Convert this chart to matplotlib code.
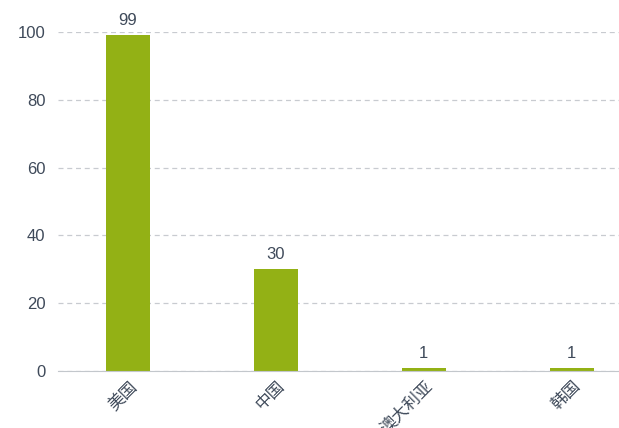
import matplotlib.pyplot as plt

plt.rcParams['font.family'] = ['Liberation Sans', 'Noto Sans CJK SC', 'DejaVu Sans']

countries = ['美国', '中国', '澳大利亚', '韩国']
counts = [99, 30, 1, 1]
yticks = [0, 20, 40, 60, 80, 100]

text_color = '#3f4a5a'
bar_color = '#93b115'

fig = plt.figure(figsize=(6.19, 4.28), dpi=100)
ax = fig.add_axes([58 / 619, (428 - 371) / 428, (619 - 58) / 619, (371 - 32) / 428])

x = list(range(len(countries)))
ax.bar(x, counts, width=0.30, color=bar_color, zorder=3)

for xi, v in zip(x, counts):
    ax.annotate(str(v), (xi, v), xytext=(0, 5), textcoords='offset points',
                ha='center', va='bottom', fontsize=12, color=text_color)

ax.set_xlim(-0.474, 3.32)
ax.set_ylim(0, 100)
ax.set_yticks(yticks)
ax.set_xticks(x)
ax.set_xticklabels(countries, rotation=45, ha='right', va='top', rotation_mode='anchor',
                   family=['Noto Sans CJK SC', 'DejaVu Sans'])

ax.grid(axis='y', color='#c8cbd0', linestyle=(0, (4, 3)), linewidth=0.9, zorder=0)
for s in ['top', 'right', 'left']:
    ax.spines[s].set_visible(False)
ax.spines['bottom'].set_color('#c3c7cc')
ax.spines['bottom'].set_zorder(4)
ax.tick_params(axis='y', length=0, pad=9, labelsize=12, labelcolor=text_color)
ax.tick_params(axis='x', length=0, pad=5, labelsize=12, labelcolor=text_color)
ax.set_axisbelow(True)

fig.savefig('out.png', dpi=100)
